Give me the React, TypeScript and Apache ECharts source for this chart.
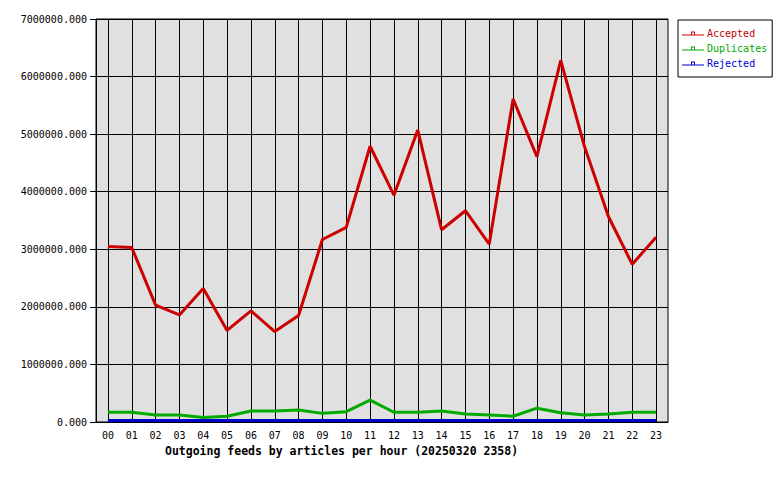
import React, { useEffect, useRef } from "react";
import * as echarts from "echarts";

const hours = ["00","01","02","03","04","05","06","07","08","09","10","11","12","13","14","15","16","17","18","19","20","21","22","23"];
const accepted = [3050000,3030000,2030000,1860000,2320000,1590000,1930000,1570000,1850000,3170000,3380000,4790000,3940000,5070000,3340000,3670000,3090000,5610000,4610000,6280000,4780000,3570000,2740000,3210000];
const duplicates = [170000,170000,120000,120000,80000,100000,190000,190000,210000,150000,180000,380000,170000,170000,190000,140000,120000,100000,240000,160000,120000,140000,170000,170000];
const rejected = [28000,28000,28000,28000,28000,28000,28000,28000,28000,28000,28000,28000,28000,28000,28000,28000,28000,28000,28000,28000,28000,28000,28000,28000];
const seriesNames = ["Accepted", "Duplicates", "Rejected"];
const seriesColors = ["#cc0000", "#00aa00", "#0000cc"];
const titleText = "Outgoing feeds by articles per hour (20250320 2358)";

const MONO = "'DejaVu Sans Mono', monospace";
const legendIcon = "path://M0,3h9v-3h4v3h9v1h-22z M10,1v2h2v-2z";

export default function App() {
  const ref = useRef<HTMLDivElement>(null);
  useEffect(() => {
    if (!ref.current) return;
    const chart = echarts.init(ref.current, null, { renderer: "svg" });
    const dataSets = [accepted, duplicates, rejected];
    chart.setOption({
      animation: false,
      backgroundColor: "#ffffff",
      title: {
        text: titleText,
        left: 165,
        top: 445,
        padding: 0,
        textStyle: { fontFamily: MONO, fontSize: 11.5, fontWeight: "bold", color: "#000" },
      },
      legend: {
        orient: "vertical",
        left: 678,
        top: 20,
        width: 92,
        backgroundColor: "#ffffff",
        borderColor: "#000000",
        borderWidth: 1,
        padding: [7, 5, 7, 4],
        itemWidth: 22,
        itemHeight: 4,
        itemGap: 2,
        icon: legendIcon,
        textStyle: { fontFamily: MONO, fontSize: 10, lineHeight: 13, padding: [0, 0, 0, -2] },
        data: seriesNames.map((n, i) => ({
          name: n,
          itemStyle: { color: seriesColors[i] },
          textStyle: { color: seriesColors[i] },
        })),
      },
      grid: {
        left: 96,
        top: 19,
        right: 112,
        bottom: 58,
        show: true,
        backgroundColor: "#e0e0e0",
        borderColor: "#000000",
        borderWidth: 1,
      },
      xAxis: {
        type: "category",
        data: hours,
        boundaryGap: true,
        axisLine: { show: true, lineStyle: { color: "#000", width: 1 } },
        axisTick: {
          show: true,
          inside: true,
          length: 403,
          alignWithLabel: true,
          interval: 0,
          lineStyle: { color: "#000", width: 1 },
        },
        axisLabel: { interval: 0, margin: 8, color: "#000", fontFamily: MONO, fontSize: 10 },
        splitLine: { show: false },
      },
      yAxis: {
        type: "value",
        min: 0,
        max: 7000000,
        interval: 1000000,
        axisLine: { show: true, lineStyle: { color: "#000", width: 1 } },
        axisTick: { show: true, inside: false, length: 6, lineStyle: { color: "#000", width: 1 } },
        axisLabel: {
          margin: 9,
          color: "#000",
          fontFamily: MONO,
          fontSize: 10,
          formatter: (v: number) => v.toFixed(3),
        },
        splitLine: { show: true, lineStyle: { color: "#000", width: 1 } },
      },
      series: seriesNames.map((n, i) => ({
        name: n,
        type: "line",
        data: dataSets[i],
        showSymbol: false,
        symbol: "none",
        z: 3 + (2 - i),
        lineStyle: { color: seriesColors[i], width: 3 },
        itemStyle: { color: seriesColors[i] },
      })),
    });
    return () => chart.dispose();
  }, []);
  return <div ref={ref} style={{ width: 780, height: 480, position: "absolute", left: 0, top: 0 }} />;
}
